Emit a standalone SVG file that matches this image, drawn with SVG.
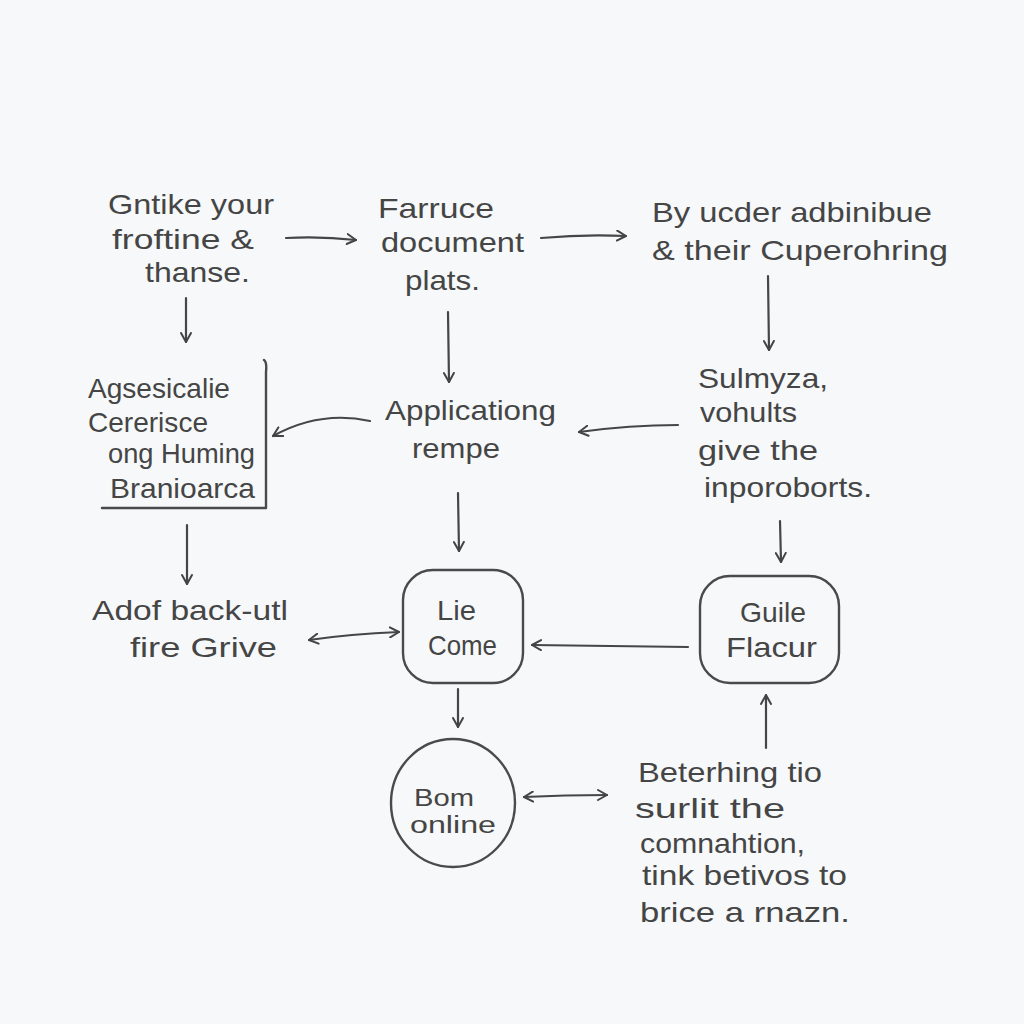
<svg xmlns="http://www.w3.org/2000/svg" width="1024" height="1024" viewBox="0 0 1024 1024">
<defs>
<marker id="ah" viewBox="0 0 12 12" refX="10" refY="6" markerWidth="12" markerHeight="12" markerUnits="userSpaceOnUse" orient="auto-start-reverse">
<path d="M1,1 L10,6 L1,11" fill="none" stroke="#444" stroke-width="2" stroke-linecap="round" stroke-linejoin="round"/>
</marker>
</defs>
<style>
text{font-family:"Liberation Sans","DejaVu Sans",sans-serif;font-size:28px;fill:#454545;}
.sm{font-size:23px;}
.c{fill:none;stroke:#464646;stroke-width:2.2;stroke-linecap:round;}
.s{fill:none;stroke:#4a4a4a;stroke-width:2.4;stroke-linecap:round;stroke-linejoin:round;}
</style>
<rect width="1024" height="1024" fill="#f6f8fa"/>
<g id="n1">
<text x="108" y="214" textLength="166" lengthAdjust="spacingAndGlyphs">Gntike your</text>
<text x="112" y="249" textLength="142" lengthAdjust="spacingAndGlyphs">froftine &amp;</text>
<text x="145" y="282" textLength="105" lengthAdjust="spacingAndGlyphs">thanse.</text>
</g>
<g id="n2">
<text x="378" y="218" textLength="116" lengthAdjust="spacingAndGlyphs">Farruce</text>
<text x="381" y="252" textLength="143" lengthAdjust="spacingAndGlyphs">document</text>
<text x="405" y="290" textLength="75" lengthAdjust="spacingAndGlyphs">plats.</text>
</g>
<g id="n3">
<text x="652" y="222" textLength="280" lengthAdjust="spacingAndGlyphs">By ucder adbinibue</text>
<text x="652" y="260" textLength="296" lengthAdjust="spacingAndGlyphs">&amp; their Cuperohring</text>
</g>
<g id="n4">
<path class="s" d="M264,360 Q267,362 266,372 L266,508 L102,508"/>
<text x="88" y="398" textLength="142" lengthAdjust="spacingAndGlyphs">Agsesicalie</text>
<text x="88" y="432" textLength="120" lengthAdjust="spacingAndGlyphs">Cererisce</text>
<text x="108" y="463" textLength="147" lengthAdjust="spacingAndGlyphs">ong Huming</text>
<text x="110" y="498" textLength="145" lengthAdjust="spacingAndGlyphs">Branioarca</text>
</g>
<g id="n5">
<text x="385" y="420" textLength="171" lengthAdjust="spacingAndGlyphs">Applicationg</text>
<text x="412" y="458" textLength="88" lengthAdjust="spacingAndGlyphs">rempe</text>
</g>
<g id="n6">
<text x="698" y="388" textLength="130" lengthAdjust="spacingAndGlyphs">Sulmyza,</text>
<text x="700" y="422" textLength="97" lengthAdjust="spacingAndGlyphs">vohults</text>
<text x="698" y="460" textLength="120" lengthAdjust="spacingAndGlyphs">give the</text>
<text x="704" y="497" textLength="168" lengthAdjust="spacingAndGlyphs">inporoborts.</text>
</g>
<g id="n7">
<text x="92" y="620" textLength="196" lengthAdjust="spacingAndGlyphs">Adof back-utl</text>
<text x="130" y="657" textLength="147" lengthAdjust="spacingAndGlyphs">fire  Grive</text>
</g>
<g id="n8">
<rect class="s" x="403" y="570" width="120" height="113" rx="30"/>
<text x="437" y="620" textLength="39" lengthAdjust="spacingAndGlyphs">Lie</text>
<text x="428" y="655" textLength="69" lengthAdjust="spacingAndGlyphs">Come</text>
</g>
<g id="n9">
<rect class="s" x="700" y="576" width="139" height="107" rx="30"/>
<text x="740" y="622" textLength="66" lengthAdjust="spacingAndGlyphs">Guile</text>
<text x="726" y="657" textLength="91" lengthAdjust="spacingAndGlyphs">Flacur</text>
</g>
<g id="n10">
<ellipse class="s" cx="453" cy="803" rx="62" ry="64"/>
<text class="sm" x="414" y="806" textLength="60" lengthAdjust="spacingAndGlyphs">Bom</text>
<text class="sm" x="410" y="833" textLength="86" lengthAdjust="spacingAndGlyphs">online</text>
</g>
<g id="n11">
<text x="638" y="782" textLength="184" lengthAdjust="spacingAndGlyphs">Beterhing tio</text>
<text x="635" y="818" textLength="150" lengthAdjust="spacingAndGlyphs">surlit the</text>
<text x="640" y="853" textLength="165" lengthAdjust="spacingAndGlyphs">comnahtion,</text>
<text x="642" y="885" textLength="205" lengthAdjust="spacingAndGlyphs">tink betivos to</text>
<text x="640" y="922" textLength="210" lengthAdjust="spacingAndGlyphs">brice a rnazn.</text>
</g>
<g id="connectors">
<path class="c" d="M286,238 Q320,236 356,240" marker-end="url(#ah)"/>
<path class="c" d="M541,238 Q585,234 626,236" marker-end="url(#ah)"/>
<path class="c" d="M186,298 L186,342" marker-end="url(#ah)"/>
<path class="c" d="M448,312 L449,382" marker-end="url(#ah)"/>
<path class="c" d="M768,276 L769,350" marker-end="url(#ah)"/>
<path class="c" d="M370,421 Q320,410 273,436" marker-end="url(#ah)"/>
<path class="c" d="M678,425 Q630,425 579,432" marker-end="url(#ah)"/>
<path class="c" d="M187,525 L187,584" marker-end="url(#ah)"/>
<path class="c" d="M458,493 L459,551" marker-end="url(#ah)"/>
<path class="c" d="M780,521 L781,562" marker-end="url(#ah)"/>
<path class="c" d="M309,640 Q350,634 399,632" marker-start="url(#ah)" marker-end="url(#ah)"/>
<path class="c" d="M688,647 L532,645" marker-end="url(#ah)"/>
<path class="c" d="M766,748 L766,695" marker-end="url(#ah)"/>
<path class="c" d="M458,689 L458,727" marker-end="url(#ah)"/>
<path class="c" d="M524,797 Q565,795 607,795" marker-start="url(#ah)" marker-end="url(#ah)"/>
</g>
</svg>
